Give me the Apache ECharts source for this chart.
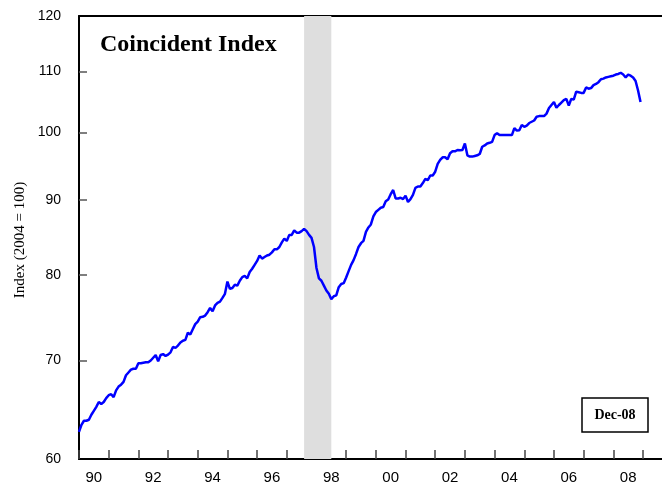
<!DOCTYPE html>
<html>
<head>
<meta charset="utf-8">
<script src="https://cdn.jsdelivr.net/npm/echarts@6/dist/echarts.min.js"></script>
<style>
  html, body { margin: 0; padding: 0; background: #fff; }
  #main { width: 662px; height: 489px; }
</style>
</head>
<body>
<div id="main"></div>
<script>
// monthly coincident index, Jan 1990 .. Dec 2008 (2004 = 100)
const startYear = 1990;
const coincident = [
  62.6, 63.3, 63.7, 63.7, 63.8, 64.3, 64.7, 65.1, 65.6, 65.4, 65.6, 66.0,
  66.3, 66.4, 66.1, 66.8, 67.2, 67.4, 67.7, 68.4, 68.7, 69.0, 69.1, 69.1,
  69.7, 69.7, 69.75, 69.8, 69.8, 70.0, 70.3, 70.6, 69.9, 70.6, 70.7, 70.5,
  70.65, 70.9, 71.5, 71.4, 71.65, 72.0, 72.2, 72.3, 73.1, 72.9, 73.5, 74.1,
  74.4, 74.9, 74.95, 75.1, 75.5, 76.0, 75.6, 76.3, 76.6, 76.75, 77.2, 77.7,
  79.2, 78.3, 78.4, 78.8, 78.7, 79.3, 79.75, 79.9, 79.6, 80.4, 80.8, 81.3,
  81.8, 82.5, 82.1, 82.3, 82.5, 82.6, 82.9, 83.3, 83.3, 83.6, 84.2, 84.7,
  84.4, 85.2, 85.2, 85.8, 85.5, 85.5, 85.7, 86.0, 85.7, 85.2, 84.8, 83.6,
  80.9, 79.6, 79.3, 78.7, 78.1, 77.7, 77.05, 77.4, 77.5, 78.5, 78.9, 79.0,
  79.7, 80.5, 81.3, 81.9, 82.7, 83.6, 84.1, 84.4, 85.6, 86.2, 86.6, 87.7,
  88.3, 88.6, 88.9, 89.0, 89.8, 90.05, 90.8, 91.4, 90.2, 90.2, 90.3, 90.1,
  90.6, 89.7, 90.1, 90.7, 91.7, 91.9, 91.9, 92.4, 93.0, 92.8, 93.5, 93.5,
  94.05, 95.2, 95.8, 96.2, 96.2, 95.9, 96.8, 97.1, 97.1, 97.3, 97.25, 97.3,
  98.3, 96.5, 96.3, 96.3, 96.4, 96.5, 96.7, 97.8, 98.0, 98.3, 98.4, 98.55,
  99.6, 99.9, 99.6, 99.6, 99.6, 99.6, 99.6, 99.6, 100.7, 100.3, 100.35, 101.2,
  100.9, 101.1, 101.5, 101.7, 101.9, 102.5, 102.6, 102.6, 102.6, 103.0, 103.9, 104.4,
  104.9, 103.95, 104.4, 104.8, 105.2, 105.4, 104.3, 105.4, 105.3, 106.6, 106.5, 106.4,
  106.4, 107.3, 107.1, 107.2, 107.7, 107.9, 108.2, 108.7, 108.8, 109.0, 109.1, 109.2,
  109.3, 109.5, 109.6, 109.8, 109.5, 109.0, 109.5, 109.3, 109.0, 108.4, 106.8, 104.9
];
const labelYears = [1990, 1992, 1994, 1996, 1998, 2000, 2002, 2004, 2006, 2008];
const tickYears = [1990, 1991, 1992, 1993, 1994, 1995, 1996, 1997, 1998, 1999,
  2000, 2001, 2002, 2003, 2004, 2005, 2006, 2007, 2008, 2009];
const yLabels = [60, 70, 80, 90, 100, 110, 120];
const yTicks = [70, 80, 90, 100, 110];
// shaded recession: Aug 1997 .. Jul 1998
const recession = [1997 + 7 / 12, 1998 + 6 / 12];
const lastObs = 'Dec-08';
const yName = 'Index (2004 = 100)';

let points = coincident.map((v, i) => [startYear + i / 12, v]);

let chart = echarts.init(document.getElementById('main'));
let xMin = 1990, xMax = 2009.64;

let option = {
  animation: false,
  backgroundColor: '#fff',
  title: {
    text: 'Coincident Index',
    left: 100,
    top: 33,
    padding: 0,
    textStyle: { fontFamily: 'Liberation Serif', fontWeight: 'bold', fontSize: 24, color: '#000' }
  },
  grid: { left: 79, top: 16, right: 0, bottom: 30, outerBoundsMode: 'none' },
  xAxis: [{
    type: 'value',
    min: xMin,
    max: xMax,
    splitLine: { show: false },
    axisLine: { show: true, lineStyle: { color: '#000', width: 2 } },
    axisTick: { show: true, inside: true, length: 9, customValues: tickYears, lineStyle: { color: '#444', width: 1.5 } },
    axisLabel: {
      customValues: labelYears.map(y => y + 0.5),
      formatter: v => String(Math.floor(v) % 100).padStart(2, '0'),
      fontFamily: 'Liberation Sans', fontSize: 15, color: '#000', margin: 11
    }
  }, {
    type: 'value',
    position: 'top',
    min: xMin,
    max: xMax,
    splitLine: { show: false },
    axisLine: { show: true, lineStyle: { color: '#000', width: 2 } },
    axisTick: { show: false },
    axisLabel: { show: false }
  }],
  yAxis: {
    type: 'log',
    logBase: 10,
    min: 60,
    max: 120,
    splitLine: { show: false },
    axisLine: { show: true, lineStyle: { color: '#000', width: 2 } },
    axisTick: { show: true, inside: true, length: 8, customValues: yTicks, lineStyle: { color: '#555', width: 1.5 } },
    axisLabel: {
      customValues: yLabels,
      fontFamily: 'Liberation Sans', fontSize: 14, color: '#000', margin: 18
    }
  },
  graphic: [{
    type: 'text',
    x: 20, y: 240,
    rotation: Math.PI / 2,
    style: {
      text: yName, align: 'center', verticalAlign: 'middle',
      font: '15px "Liberation Serif"', fill: '#000'
    }
  }, {
    type: 'group',
    children: [{
      type: 'rect',
      shape: { x: 582, y: 398, width: 66, height: 34 },
      style: { fill: '#fff', stroke: '#000', lineWidth: 1.5 }
    }, {
      type: 'text',
      x: 615, y: 415,
      style: {
        text: lastObs, align: 'center', verticalAlign: 'middle',
        font: 'bold 14px "Liberation Serif"', fill: '#000'
      }
    }]
  }],
  series: [{
    type: 'line',
    data: [],
    silent: true,
    markArea: {
      silent: true,
      itemStyle: { color: '#dedede' },
      data: [[{ xAxis: recession[0] }, { xAxis: recession[1] }]]
    }
  }, {
    name: 'Coincident Index',
    type: 'line',
    data: points,
    showSymbol: false,
    symbol: 'none',
    lineStyle: { color: '#0000ff', width: 2.5 },
    itemStyle: { color: '#0000ff' }
  }]
};

chart.setOption(option);
</script>
</body>
</html>
